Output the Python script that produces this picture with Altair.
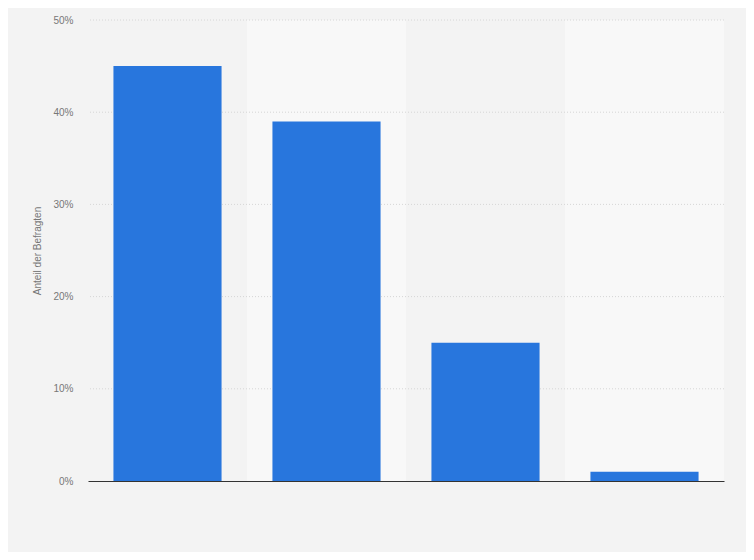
import altair as alt
import pandas as pd

categories = ["Antwort 1", "Antwort 2", "Antwort 3", "Antwort 4"]
values = [45, 39, 15, 1]
band_shade = ["dark", "light", "dark", "light"]
grid_ticks = [10, 20, 30, 40, 50]
y_ticks = [0, 10, 20, 30, 40, 50]

bars_df = pd.DataFrame({"Kategorie": categories, "Anteil": values})
bands_df = pd.DataFrame({"Kategorie": categories, "shade": band_shade})
grid_df = pd.DataFrame({"Anteil": grid_ticks})

W, H = 636, 461

yscale = alt.Scale(domain=[0, 50], nice=False)
yaxis = alt.Axis(values=y_ticks, labelExpr="datum.value + '%'",
                 grid=False, domain=False, ticks=False, labelPadding=15,
                 labelColor="#777777", labelFontSize=10, labelFont="Arial",
                 titleColor="#777777", titleFontSize=10, titleFont="Arial",
                 titleFontWeight="normal", titlePadding=10)

bands = alt.Chart(bands_df).mark_rect().encode(
    x=alt.X("Kategorie:N", sort=categories, axis=None,
            scale=alt.Scale(paddingInner=0, paddingOuter=0)),
    color=alt.Color("shade:N", legend=None,
                    scale=alt.Scale(domain=["dark", "light"], range=["#f3f3f3", "#f8f8f8"])),
)

grid = alt.Chart(grid_df).mark_rule(color="#d6d6d6", strokeDash=[1, 2], strokeWidth=1).encode(
    y=alt.Y("Anteil:Q", scale=yscale, axis=yaxis, title="Anteil der Befragten"),
)

bars = alt.Chart(bars_df).mark_bar(color="#2876dd").encode(
    x=alt.X("Kategorie:N", sort=categories, title=None,
            scale=alt.Scale(paddingInner=0.32, paddingOuter=0.16),
            axis=alt.Axis(labels=False, ticks=False, domainColor="#333333",
                          domainWidth=1.2, title=None)),
    y=alt.Y("Anteil:Q", scale=yscale, axis=yaxis, title="Anteil der Befragten"),
)

chart = alt.layer(bands, grid, bars).resolve_scale(
    x="independent", color="independent"
).properties(
    width=W, height=H,
    background="#f3f3f3",
    padding={"left": 80, "top": 12, "right": 22, "bottom": 71},
    autosize=alt.AutoSizeParams(type="none"),
).configure_view(stroke=None)

chart.save("out.html", embed_options={"renderer": "svg", "actions": False})
